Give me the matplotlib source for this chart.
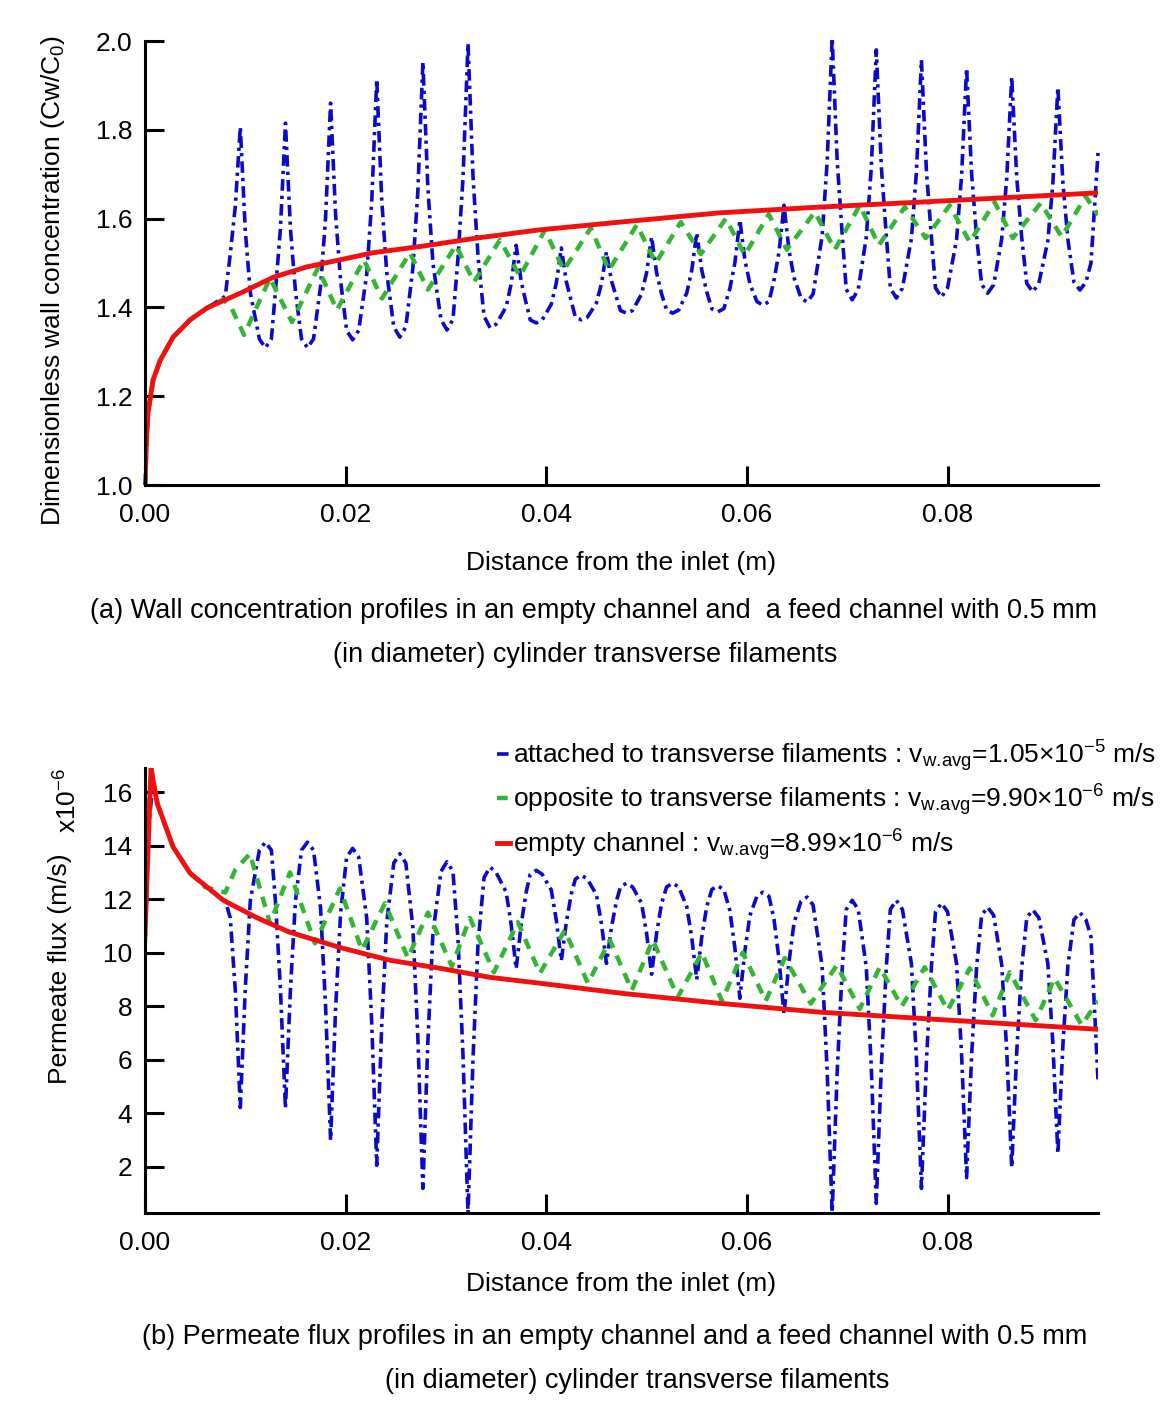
import matplotlib
matplotlib.use('Agg')
import matplotlib.pyplot as plt

plt.rcParams['font.family'] = ['Liberation Sans', 'DejaVu Sans']
plt.rcParams['mathtext.fontset'] = 'custom'
plt.rcParams['mathtext.rm'] = 'Liberation Sans'
plt.rcParams['mathtext.it'] = 'Liberation Sans:italic'

# x positions (m) shared by the "attached" curves in both panels
ATT_X = [0.0, 0.0003, 0.0008, 0.0015, 0.0028, 0.0045, 0.0062, 0.0080, 0.0085, 0.0090,
         .0095, .0100, .0105, .0114, .0120, .0126, .0130, .0135,
         .0140, .0145, .0150, .0156, .0162, .0168, .0175, .0180,
         .0185, .0190, .0195, .0201, .0207, .0213, .0221, .0226,
         .0231, .0236, .0241, .0248, .0254, .0260, .0267, .0272,
         .0277, .0282, .0287, .0295, .0301, .0307, .0312, .0317,
         .0322, .0327, .0332, .0338, .0344, .0350, .0360, .0365,
         .0370, .0375, .0380, .0384, .0390, .0396, .0405, .0410,
         .0415, .0420, .0425, .0429, .0435, .0441, .0450, .0455,
         .0460, .0465, .0470, .0474, .0480, .0486, .0495, .0500,
         .0505, .0510, .0515, .0520, .0526, .0532, .0540, .0545,
         .0550, .0555, .0560, .0565, .0571, .0577, .0583, .0588,
         .0593, .0598, .0603, .0610, .0616, .0622, .0627, .0632,
         .0637, .0642, .0647, .0654, .0660, .0666, .0675, .0680,
         .0685, .0690, .0695, .0699, .0705, .0711, .0719, .0724,
         .0729, .0734, .0739, .0743, .0749, .0755, .0764, .0769,
         .0774, .0779, .0784, .0788, .0794, .0800, .0809, .0814,
         .0819, .0824, .0829, .0834, .0840, .0846, .0854, .0859,
         .0864, .0869, .0874, .0879, .0885, .0891, .0900, .0905,
         .0910, .0915, .0920, .0926, .0932, .0938, .0943, .0950]

# (a) wall concentration Cw/C0
ATT_CW = [1.0, 1.162, 1.236, 1.28, 1.333, 1.372, 1.399, 1.425, 1.52, 1.627,
          1.806, 1.572, 1.433, 1.329, 1.309, 1.329, 1.436, 1.577,
          1.815, 1.577, 1.436, 1.329, 1.309, 1.329, 1.447, 1.601,
          1.860, 1.609, 1.460, 1.348, 1.327, 1.348, 1.474, 1.638,
          1.914, 1.641, 1.478, 1.356, 1.333, 1.356, 1.488, 1.662,
          1.953, 1.669, 1.500, 1.373, 1.349, 1.373, 1.511, 1.691,
          1.995, 1.694, 1.514, 1.380, 1.354, 1.362, 1.401, 1.453,
          1.540, 1.458, 1.409, 1.372, 1.365, 1.372, 1.407, 1.455,
          1.534, 1.458, 1.413, 1.378, 1.372, 1.378, 1.410, 1.453,
          1.525, 1.460, 1.422, 1.393, 1.387, 1.393, 1.430, 1.478,
          1.559, 1.478, 1.430, 1.394, 1.387, 1.394, 1.432, 1.483,
          1.568, 1.484, 1.435, 1.397, 1.390, 1.397, 1.442, 1.500,
          1.597, 1.507, 1.453, 1.413, 1.405, 1.413, 1.461, 1.524,
          1.630, 1.528, 1.467, 1.421, 1.412, 1.430, 1.561, 1.727,
          2.007, 1.730, 1.565, 1.441, 1.417, 1.440, 1.558, 1.715,
          1.980, 1.717, 1.561, 1.443, 1.421, 1.443, 1.555, 1.705,
          1.957, 1.706, 1.557, 1.444, 1.423, 1.444, 1.552, 1.696,
          1.939, 1.701, 1.559, 1.452, 1.432, 1.451, 1.554, 1.690,
          1.919, 1.692, 1.556, 1.454, 1.435, 1.454, 1.550, 1.679,
          1.896, 1.681, 1.553, 1.457, 1.439, 1.457, 1.500, 1.748]

OPP_X_A = [0.0, 0.0003, 0.0008, 0.0015, 0.0028, 0.0045, 0.0062, 0.0078, 0.0086,
           0.00987, 0.01246, 0.01465, 0.01724, 0.01913, 0.02182, 0.02362, 0.02641,
           0.02820, 0.03099, 0.03279, 0.03538, 0.03737, 0.03986, 0.04175, 0.04444,
           0.04624, 0.04903, 0.05092, 0.05341, 0.05541, 0.05790, 0.05979, 0.06218,
           0.06398, 0.06677, 0.06876, 0.07125, 0.07315, 0.07574, 0.07783, 0.08022,
           0.08221, 0.08470, 0.08650, 0.08929, 0.09138, 0.09377, 0.0950]
OPP_CW = [1.0, 1.162, 1.236, 1.28, 1.333, 1.372, 1.399, 1.418, 1.40,
          1.338, 1.466, 1.367, 1.489, 1.394, 1.507, 1.42, 1.523,
          1.44, 1.54, 1.457, 1.552, 1.47, 1.574, 1.484, 1.579,
          1.484, 1.586, 1.50, 1.592, 1.52, 1.60, 1.518, 1.61,
          1.53, 1.615, 1.53, 1.63, 1.54, 1.626, 1.556, 1.63,
          1.547, 1.637, 1.556, 1.635, 1.559, 1.65, 1.608]

EMPTY_X_A = [0.0, 0.0001, 0.0003, 0.0008, 0.0015, 0.0028, 0.0045, 0.0062, 0.0095, 0.0128,
             0.0161, 0.0194, 0.0227, 0.0277, 0.0327, 0.0391, 0.0473, 0.0573, 0.0673,
             0.0772, 0.0950]
EMPTY_CW = [1.0, 1.08, 1.162, 1.236, 1.28, 1.333, 1.372, 1.399, 1.432, 1.468,
            1.491, 1.507, 1.523, 1.538, 1.555, 1.574, 1.592, 1.613, 1.626,
            1.637, 1.658]

# (b) permeate flux, in units of 1e-6 m/s
ATT_FLUX = [10.7, 14.5, 16.3, 15.3, 13.95, 12.97, 12.4, 11.95, 11.3, 8.6,
            4.22, 8.68, 11.95, 13.83, 14.13, 13.83, 11.94, 8.66,
            4.19, 8.66, 11.94, 13.83, 14.13, 13.83, 11.68, 8.01,
            3.0, 7.9, 11.5, 13.57, 13.9, 13.57, 11.30, 7.39,
            2.06, 7.30, 11.14, 13.35, 13.7, 13.35, 10.95, 6.83,
            1.2, 6.69, 10.72, 13.03, 13.4, 13.03, 10.51, 6.17,
            0.26, 6.08, 10.35, 12.81, 13.2, 13.0, 12.27, 11.06,
            9.4, 11.06, 12.27, 12.93, 13.08, 12.93, 12.34, 11.22,
            9.7, 11.14, 12.20, 12.75, 12.9, 12.75, 12.17, 11.09,
            9.6, 10.95, 11.94, 12.46, 12.6, 12.46, 11.85, 10.73,
            9.2, 10.73, 11.85, 12.46, 12.6, 12.46, 11.73, 10.58,
            9.0, 10.58, 11.73, 12.36, 12.5, 12.36, 11.58, 10.19,
            8.3, 10.08, 11.39, 12.11, 12.26, 12.11, 11.26, 9.75,
            7.7, 9.67, 11.12, 11.93, 12.08, 11.78, 9.49, 5.60,
            0.3, 5.55, 9.39, 11.61, 11.96, 11.61, 9.47, 5.73,
            0.64, 5.73, 9.47, 11.62, 11.96, 11.62, 9.59, 6.04,
            1.2, 5.99, 9.51, 11.53, 11.85, 11.53, 9.60, 6.21,
            1.6, 6.15, 9.48, 11.40, 11.7, 11.40, 9.56, 6.35,
            1.98, 6.31, 9.48, 11.31, 11.6, 11.31, 9.60, 6.60,
            2.5, 6.55, 9.52, 11.23, 11.5, 11.23, 10.6, 5.24]

OPP_X_B = [0.0, 0.0003, 0.0006, 0.0012, 0.0028, 0.0045, 0.0060, 0.0080, 0.0090,
           0.01046, 0.01246, 0.01445, 0.01694, 0.01943, 0.02162, 0.02392, 0.02621,
           0.02820, 0.03059, 0.03239, 0.03478, 0.03717, 0.03936, 0.04185, 0.04415,
           0.04634, 0.04853, 0.05062, 0.05311, 0.05551, 0.05750, 0.05959, 0.06188,
           0.06378, 0.06637, 0.06896, 0.07125, 0.07324, 0.07544, 0.07773, 0.08002,
           0.08221, 0.08450, 0.08620, 0.08879, 0.09068, 0.09337, 0.0950]
OPP_FLUX = [10.4, 14.5, 16.9, 15.6, 13.95, 12.97, 12.45, 12.25, 13.1,
            13.7, 11.1, 13.0, 10.35, 12.4, 10.1, 11.85, 9.8,
            11.5, 9.5, 11.3, 9.27, 11.14, 9.23, 10.84, 8.86,
            10.47, 8.6, 10.47, 8.34, 10.0, 8.2, 10.0, 8.2,
            9.8, 8.1, 9.53, 7.9, 9.46, 8.0, 9.46, 7.85,
            9.42, 7.66, 9.27, 7.48, 9.05, 7.3, 8.2]

EMPTY_X_B = [0.0, 0.0006, 0.0012, 0.0028, 0.0045, 0.0078, 0.0112, 0.0144, 0.0194, 0.0244,
             0.0294, 0.0344, 0.0394, 0.0474, 0.0573, 0.0673, 0.0772, 0.0950]
EMPTY_FLUX = [10.7, 16.9, 15.6, 13.95, 12.97, 11.96, 11.3, 10.77, 10.2, 9.72,
              9.42, 9.08, 8.86, 8.49, 8.11, 7.78, 7.55, 7.14]

LABELS = ['attached to transverse filaments : v$_{\\mathrm{w.\\!avg}}$=1.05\u00d710$^{-5}$ m/s',
          'opposite to transverse filaments : v$_{\\mathrm{w.\\!avg}}$=9.90\u00d710$^{-6}$ m/s',
          'empty channel : v$_{\\mathrm{w.\\!avg}}$=8.99\u00d710$^{-6}$ m/s']

BLUE = '#0a0ac8'
GREEN = '#35b535'
RED = '#f01010'
FS = 19
CAP_FS = 19.5

fig = plt.figure(figsize=(11.72, 14.06), dpi=100)
ax1 = fig.add_axes([145/1172, 1-485/1406, 953/1172, 444/1406])
ax2 = fig.add_axes([145/1172, 1-1213/1406, 953/1172, 445/1406])


def style(ax):
    for s in ['top', 'right']:
        ax.spines[s].set_visible(False)
    for s in ['left', 'bottom']:
        ax.spines[s].set_linewidth(2.2)
    ax.tick_params(direction='in', length=14, width=2.2, labelsize=FS)
    ax.tick_params(axis='y', pad=9)
    ax.tick_params(axis='x', pad=13)
    ax.set_xlim(0, 0.095)
    ax.set_xticks([0.0, 0.02, 0.04, 0.06, 0.08])
    ax.set_xticklabels(['0.00', '0.02', '0.04', '0.06', '0.08'])


# (a)
ax1.plot(ATT_X, ATT_CW, color=BLUE, lw=2.6, dashes=(3.2, 1.4, 0.9, 1.4), clip_on=False)
ax1.plot(OPP_X_A, OPP_CW, color=GREEN, lw=3.2, dashes=(2.4, 1.9))
ax1.plot(EMPTY_X_A, EMPTY_CW, color=RED, lw=3.5)
style(ax1)
ax1.set_ylim(1.0, 2.0)
ax1.set_yticks([1.0, 1.2, 1.4, 1.6, 1.8, 2.0])
ax1.set_xlabel('Distance from the inlet (m)', fontsize=FS, labelpad=17)
ax1.set_ylabel('Dimensionless wall concentration (Cw/C$_0$)', fontsize=FS)
ax1.yaxis.set_label_coords(-0.082, 0.46)

# (b)
l1, = ax2.plot(ATT_X, ATT_FLUX, color=BLUE, lw=2.6, dashes=(3.2, 1.4, 0.9, 1.4))
l2, = ax2.plot(OPP_X_B, OPP_FLUX, color=GREEN, lw=3.2, dashes=(2.4, 1.9))
l3, = ax2.plot(EMPTY_X_B, EMPTY_FLUX, color=RED, lw=3.5)
style(ax2)
ax2.set_ylim(0.28, 16.9)
ax2.set_yticks([2, 4, 6, 8, 10, 12, 14, 16])
ax2.set_xlabel('Distance from the inlet (m)', fontsize=FS, labelpad=12)
ax2.set_ylabel('Permeate flux (m/s)', fontsize=FS)
ax2.yaxis.set_label_coords(-0.077, 0.55)
fig.text(68/1172, 1-800/1406, 'x10$^{-6}$', rotation=90, ha='center', va='center', fontsize=FS)

ax2.legend([l1, l2, l3], LABELS, loc='upper left', bbox_to_anchor=(497/1172, 1-738/1406),
           bbox_transform=fig.transFigure, frameon=False, fontsize=FS,
           handlelength=0.5, handletextpad=0.12, borderpad=0, borderaxespad=0,
           labelspacing=0.32)

fig.text(594/1172, 1-611/1406,
         '(a) Wall concentration profiles in an empty channel and  a feed channel with 0.5 mm',
         ha='center', va='center', fontsize=CAP_FS)
fig.text(585/1172, 1-655/1406, '(in diameter) cylinder transverse filaments',
         ha='center', va='center', fontsize=CAP_FS)
fig.text(615/1172, 1-1337/1406,
         '(b) Permeate flux profiles in an empty channel and a feed channel with 0.5 mm',
         ha='center', va='center', fontsize=CAP_FS)
fig.text(637/1172, 1-1381/1406, '(in diameter) cylinder transverse filaments',
         ha='center', va='center', fontsize=CAP_FS)

fig.savefig('out.png', dpi=100)
